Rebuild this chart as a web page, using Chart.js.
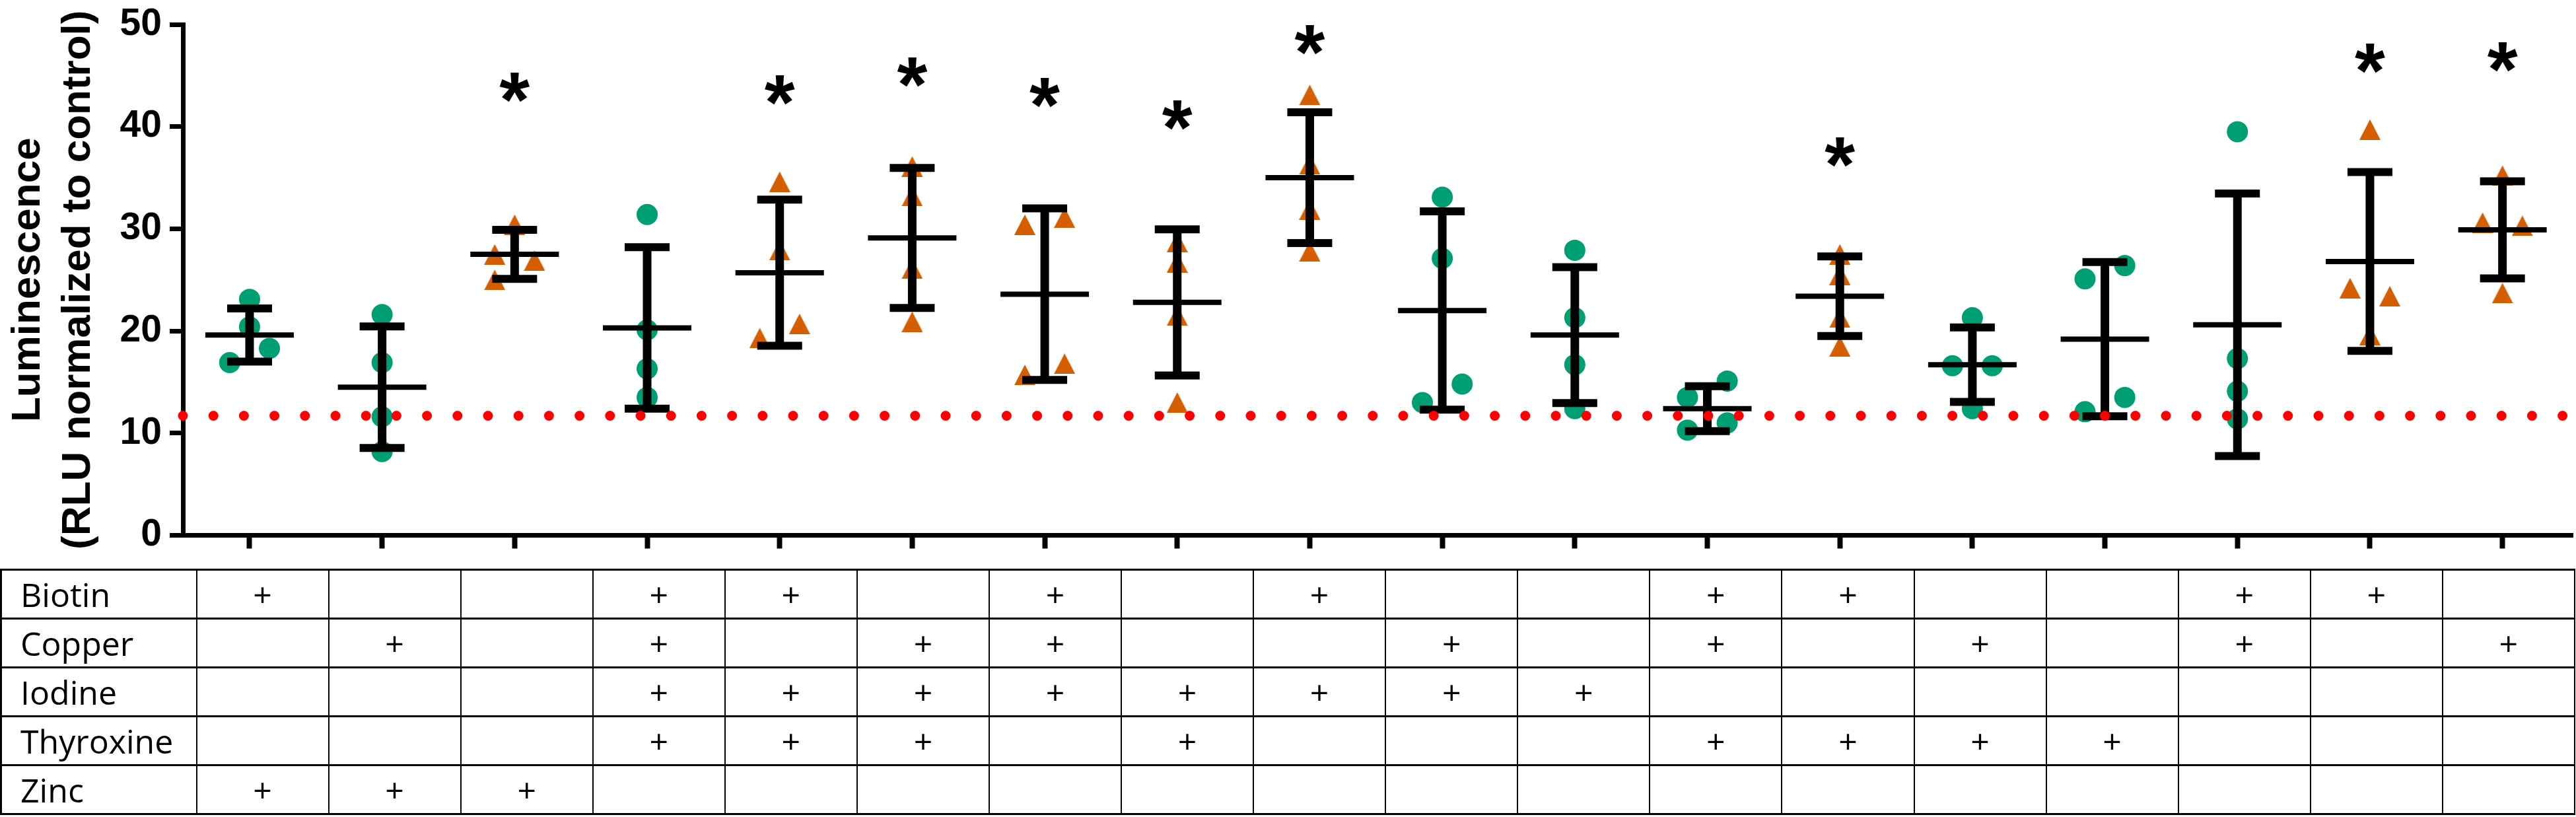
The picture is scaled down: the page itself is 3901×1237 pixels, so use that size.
<!DOCTYPE html>
<html>
<head>
<meta charset="utf-8">
<title>Luminescence by supplement combination</title>
<script src="https://cdn.jsdelivr.net/npm/chart.js@4.4.1/dist/chart.umd.min.js"></script>
<style>
  html, body { margin:0; padding:0; background:#fff; }
  #wrap { position:relative; width:3901px; height:1237px; overflow:hidden; background:#fff; }
  #plotBox { position:absolute; left:0; top:0; width:3901px; height:862px; }
  #grid { position:absolute; left:0; top:861px; width:3900px; border-collapse:collapse; table-layout:fixed;
          font-family:'Open Sans', sans-serif; font-size:50px; color:#000; }
  #grid tr { height:74px; }
  #grid td { padding:0; border-top:3px solid #000; border-bottom:3px solid #000;
             border-left:2px solid #000; border-right:2px solid #000;
             text-align:center; vertical-align:middle; line-height:1; }
  #grid td.lab { text-align:left; padding-left:28px; border-left-width:3px; }
</style>
</head>
<body>
<div id="wrap">
  <div id="plotBox"><canvas id="lumChart"></canvas></div>
  <table id="grid"><colgroup id="cols"></colgroup><tbody id="gridBody"></tbody></table>
</div>
<script>
// ============================================================
// values (4 replicates per condition)
// ============================================================
const values = [
  [23.1, 20.4, 18.3, 16.9],
  [21.6, 16.9, 11.6, 8.2],
  [30.4, 27.5, 26.9, 25.0],
  [31.4, 20.1, 16.3, 13.5],
  [34.6, 27.9, 20.7, 19.3],
  [36.1, 33.2, 26.1, 20.9],
  [30.4, 31.1, 16.8, 15.7],
  [28.7, 26.7, 21.5, 13.0],
  [43.1, 36.3, 31.9, 27.8],
  [33.1, 27.1, 14.8, 13.0],
  [27.9, 21.3, 16.7, 12.4],
  [15.1, 13.5, 11.0, 10.3],
  [27.5, 25.5, 21.3, 18.5],
  [21.3, 16.6, 16.6, 12.4],
  [26.4, 25.1, 13.5, 12.1],
  [39.5, 17.3, 14.1, 11.4],
  [39.7, 24.2, 23.4, 19.6],
  [35.2, 30.6, 30.3, 23.7],
];
// horizontal scatter of the replicate symbols (in group units)
const jitter = [
  [0, 0, 0.15, -0.15],
  [0, 0, 0, 0],
  [0, -0.15, 0.15, -0.15],
  [0, 0, 0, 0],
  [0, 0, 0.15, -0.15],
  [0, 0, 0, 0],
  [-0.15, 0.15, 0.15, -0.15],
  [0, 0, 0, 0],
  [0, 0, 0, 0],
  [0, 0, 0.15, -0.15],
  [0, 0, 0, 0],
  [0.15, -0.15, 0.15, -0.15],
  [0, 0, 0, 0],
  [0, -0.15, 0.15, 0],
  [0.15, -0.15, 0.15, -0.15],
  [0, 0, 0, 0],
  [0, -0.15, 0.15, 0],
  [0, -0.15, 0.15, 0],
];
const means = [19.6, 14.5, 27.5, 20.3, 25.7, 29.1, 23.6, 22.8, 35.0, 22.0, 19.6, 12.4, 23.4, 16.7, 19.2, 20.6, 26.8, 29.9];
const sds   = [2.6, 5.95, 2.4, 7.9, 7.15, 6.85, 8.4, 7.15, 6.4, 9.7, 6.65, 2.2, 3.9, 3.65, 7.55, 12.85, 8.75, 4.75];
// significance asterisks (null = none); significant groups use triangles
const starY = [null, null, 43.8, null, 43.6, 45.3, 43.3, 41.1, 48.5, null, null, null, 37.5, null, null, null, 46.7, 46.8];
const controlLevel = 11.7;
const yTicks = [0, 10, 20, 30, 40, 50];

// treatment table under the plot
const rowNames  = ['Biotin', 'Copper', 'Iodine', 'Thyroxine', 'Zinc'];
const biotin    = [1,0,0,1,1,0,1,0,1,0,0,1,1,0,0,1,1,0];
const copper    = [0,1,0,1,0,1,1,0,0,1,0,1,0,1,0,1,0,1];
const iodine    = [0,0,0,1,1,1,1,1,1,1,1,0,0,0,0,0,0,0];
const thyroxine = [0,0,0,1,1,1,0,1,0,0,0,1,1,1,1,0,0,0];
const zinc      = [1,1,1,0,0,0,0,0,0,0,0,0,0,0,0,0,0,0];
const rowFlags  = [biotin, copper, iodine, thyroxine, zinc];

// ---------- colours ----------
const GREEN  = '#009E73';
const ORANGE = '#D55E00';

Chart.defaults.font.family = "'Liberation Sans', Arial, sans-serif";
Chart.defaults.color = '#000';

// ---------- build datasets ----------
const circlePts = [], trianglePts = [];
values.forEach((vals, g) => {
  vals.forEach((v, k) => {
    const target = starY[g] !== null ? trianglePts : circlePts;
    target.push({ x: g + jitter[g][k], y: v });
  });
});
const meanPts = means.map((m, g) => ({ x: g, y: m }));
const capPts = [], barPts = [];
means.forEach((m, g) => {
  capPts.push({ x: g, y: m + sds[g] }, { x: g, y: m - sds[g] });
  barPts.push({ x: g, y: m - sds[g] }, { x: g, y: m + sds[g] }, { x: g, y: null });
});
const xMin = -0.503, xMax = 17.53;

// triangle marker, box-centred like the original
const tri = document.createElement('canvas');
tri.width = 32; tri.height = 31;
const tctx = tri.getContext('2d');
tctx.fillStyle = ORANGE;
tctx.beginPath(); tctx.moveTo(16, 0); tctx.lineTo(32, 31); tctx.lineTo(0, 31); tctx.closePath(); tctx.fill();

// ---------- asterisks ----------
const starPlugin = {
  id: 'stars',
  afterDatasetsDraw(chart) {
    const { ctx, scales: { x, y } } = chart;
    ctx.save();
    ctx.font = "bold 118px 'Liberation Sans', Arial, sans-serif";
    ctx.fillStyle = '#000';
    ctx.textAlign = 'center';
    ctx.textBaseline = 'alphabetic';
    const m = ctx.measureText('*');
    const mid = (m.actualBoundingBoxAscent - m.actualBoundingBoxDescent) / 2;
    starY.forEach((v, g) => {
      if (v === null) return;
      ctx.fillText('*', x.getPixelForValue(g), y.getPixelForValue(v) + mid);
    });
    ctx.restore();
  }
};

new Chart(document.getElementById('lumChart'), {
  type: 'scatter',
  data: {
    datasets: [
      { label: 'control', data: [{ x: xMin, y: controlLevel }, { x: xMax, y: controlLevel }], showLine: true,
        borderColor: '#FF0000', borderWidth: 15, borderDash: [0, 46.2], borderCapStyle: 'round', pointRadius: 0, order: 0, clip: false },
      { label: 'sd bars', data: barPts, showLine: true, spanGaps: false, borderColor: '#000', borderWidth: 13,
        pointRadius: 0, order: 1, clip: false },
      { label: 'caps', data: capPts, pointStyle: 'line', pointRadius: 34, pointBorderWidth: 12,
        pointBorderColor: '#000', order: 1, clip: false },
      { label: 'mean', data: meanPts, pointStyle: 'line', pointRadius: 67, pointBorderWidth: 8,
        pointBorderColor: '#000', order: 1, clip: false },
      { label: 'replicates', data: circlePts, pointStyle: 'circle', pointRadius: 16, pointBorderWidth: 0,
        pointBackgroundColor: GREEN, order: 2, clip: false },
      { label: 'replicates (sig.)', data: trianglePts, pointStyle: tri, pointRadius: 16, order: 2, clip: false },
    ]
  },
  options: {
    responsive: true, maintainAspectRatio: false, animation: false, events: [],
    layout: { autoPadding: false, padding: { top: 37, right: 5, left: 0, bottom: 0 } },
    plugins: { legend: { display: false }, tooltip: { enabled: false } },
    scales: {
      x: {
        type: 'linear', min: xMin, max: xMax,
        afterBuildTicks: axis => { axis.ticks = values.map((_, g) => ({ value: g })); },
        afterFit: axis => { axis.height = 51.5; axis.paddingLeft = 0; axis.paddingRight = 0; },
        ticks: { display: false },
        grid: { drawOnChartArea: false, tickLength: 20, tickWidth: 8, tickColor: '#000' },
        border: { width: 7, color: '#000' }
      },
      y: {
        min: 0, max: 50,
        afterBuildTicks: axis => { axis.ticks = yTicks.map(v => ({ value: v })); },
        afterFit: axis => { axis.width = 277; axis.paddingTop = 0; axis.paddingBottom = 0; },
        ticks: { font: { size: 57, weight: 'bold' }, color: '#000', padding: 12 },
        grid: { drawOnChartArea: false, tickLength: 20, tickWidth: 7, tickColor: '#000' },
        border: { width: 7, color: '#000' },
        title: { display: true, text: ['Luminescence', '(RLU normalized to control)'], color: '#000',
                 font: { size: 62, weight: 'bold', lineHeight: 1.24 }, padding: { top: 4, bottom: 0 } }
      }
    }
  },
  plugins: [starPlugin]
});

// ---------- treatment table ----------
const cols = document.getElementById('cols');
const first = document.createElement('col');
first.style.width = '296px';
cols.appendChild(first);
values.forEach(() => cols.appendChild(document.createElement('col')));

const gridBody = document.getElementById('gridBody');
rowNames.forEach((name, r) => {
  const tr = document.createElement('tr');
  const lab = document.createElement('td');
  lab.className = 'lab';
  lab.textContent = name;
  tr.appendChild(lab);
  rowFlags[r].forEach(f => {
    const td = document.createElement('td');
    td.textContent = f ? '+' : '';
    tr.appendChild(td);
  });
  gridBody.appendChild(tr);
});
</script>
</body>
</html>
